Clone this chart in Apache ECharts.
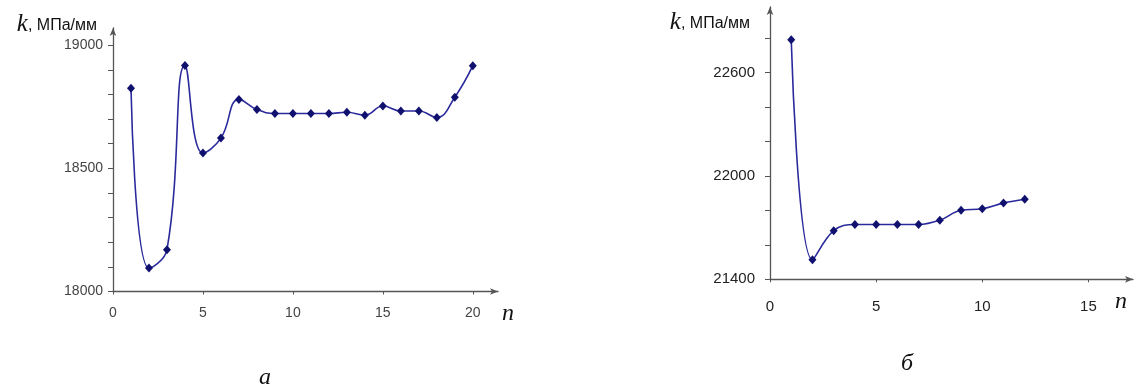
<!DOCTYPE html>
<html><head><meta charset="utf-8">
<script src="https://cdn.jsdelivr.net/npm/echarts@6/dist/echarts.min.js"></script>
<style>html,body{margin:0;padding:0;background:#fff}#c{width:1139px;height:392px}</style>
</head><body><div id="c"></div>
<script>
const leftN = [1,2,3,4,5,6,7,8,9,10,11,12,13,14,15,16,17,18,19,20];
const leftK = [18825,18095,18170,18918,18562,18623,18780,18739,18723,18723,18723,18723,18728,18716,18753,18733,18733,18707,18789,18917];
const rightN = [1,2,3,4,5,6,7,8,9,10,11,12];
const rightK = [22790,21513,21682,21718,21718,21718,21718,21743,21801,21809,21842,21864];
const leftXTicks = [0,5,10,15,20];
const rightXTicks = [0,5,10,15];
const leftYLabels = [18000,18500,19000];
const leftYTicks = [18000,18100,18200,18300,18400,18500,18600,18700,18800,18900,19000];
const rightYLabels = [21400,22000,22600];
const rightYTicks = [21400,21600,21800,22000,22200,22400,22600,22800];
const yName = '{k|k}{u|, МПа/мм}';
const xName = 'n';

const chart = echarts.init(document.getElementById('c'), null, {renderer:'canvas'});
const axisCol = '#555';
const lineCol = '#2a2a9c';
const markCol = '#10106e';
const rich = {
  k:{fontFamily:'Liberation Serif', fontStyle:'italic', fontSize:25, color:'#111'},
  u:{fontFamily:'Liberation Sans', fontSize:16, color:'#111', padding:[3,0,0,0]}
};
const plain = v => String(v);
function xAxis(idx, max, ticks, nameGap, fs, margin, col){
  return {type:'value', gridIndex:idx, min:0, max:max,
    axisLine:{show:true, lineStyle:{color:axisCol, width:1.3}, symbol:['none','arrow'], symbolSize:[5,8]},
    axisTick:{show:true, customValues:ticks, length:3, lineStyle:{color:axisCol}},
    axisLabel:{customValues:ticks, formatter:plain, margin:margin, fontFamily:'Liberation Sans', fontSize:fs, color:col},
    splitLine:{show:false},
    name:xName, nameLocation:'end', nameGap:nameGap,
    nameTextStyle:{fontFamily:'Liberation Serif', fontStyle:'italic', fontSize:24, color:'#111', align:'left', verticalAlign:'top', padding:[10,0,0,0]}
  };
}
function yAxis(idx, min, max, labels, ticks, nameGap, padR, fs, col, lm){
  return {type:'value', gridIndex:idx, min:min, max:max,
    axisLine:{show:true, lineStyle:{color:axisCol, width:1.3}, symbol:['none','arrow'], symbolSize:[5,8]},
    axisTick:{show:true, customValues:ticks, length:5, lineStyle:{color:axisCol}},
    axisLabel:{customValues:labels, formatter:plain, margin:lm, fontFamily:'Liberation Sans', fontSize:fs, color:col},
    splitLine:{show:false},
    name:yName, nameLocation:'end', nameGap:nameGap,
    nameTextStyle:{rich:rich, align:'right', verticalAlign:'middle', padding:[0,padR,0,0]}
  };
}
const option = {
  animation:false,
  backgroundColor:'#fff',
  grid:[
    {left:113, top:28, width:385, height:263.5},
    {left:770, top:7, width:363, height:272.3}
  ],
  xAxis:[ xAxis(0, 21.4, leftXTicks, 4, 14, 15, '#444'), xAxis(1, 17.1, rightXTicks, -18, 15, 20, '#222') ],
  yAxis:[ yAxis(0, 18000, 19070, leftYLabels, leftYTicks, 4, 16, 14, '#444', 10), yAxis(1, 21400, 22980, rightYLabels, rightYTicks, -15, 20, 15, '#222', 15) ],
  series:[
    {type:'line', xAxisIndex:0, yAxisIndex:0, data:leftN.map((n,i)=>[n,leftK[i]]), smooth:0.45,
      lineStyle:{color:lineCol, width:1.6}, symbol:'diamond', symbolSize:[8,9], itemStyle:{color:markCol}},
    {type:'line', xAxisIndex:1, yAxisIndex:1, data:rightN.map((n,i)=>[n,rightK[i]]), smooth:0.4,
      lineStyle:{color:lineCol, width:1.6}, symbol:'diamond', symbolSize:[8,9], itemStyle:{color:markCol}}
  ],
  graphic:[
    {type:'text', left:259, top:366, style:{text:'а', font:'italic 24px "Liberation Serif"', fill:'#111'}},
    {type:'text', left:901, top:352, style:{text:'б', font:'italic 24px "Liberation Serif"', fill:'#111'}}
  ]
};
chart.setOption(option);
</script></body></html>
